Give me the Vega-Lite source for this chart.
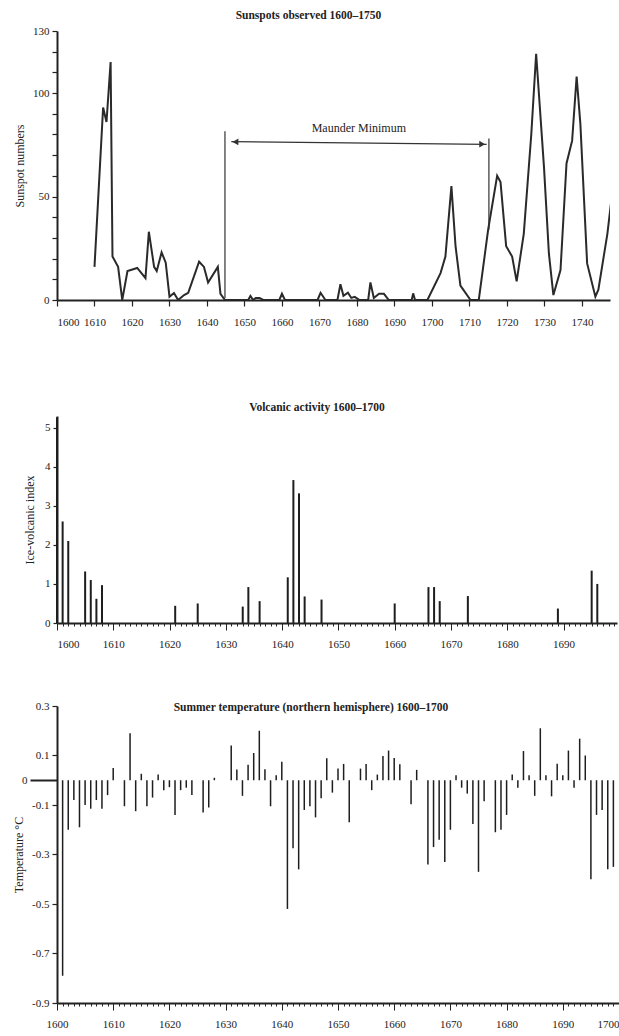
{
  "$schema": "https://vega.github.io/schema/vega-lite/v6.json",
  "padding": {"left": 12, "top": 9, "right": 0, "bottom": 0},
  "background": "white",
  "spacing": 51,
  "config": {
    "font": "Liberation Serif",
    "view": {"stroke": null},
    "axis": {
      "grid": false,
      "domainColor": "#222",
      "domainWidth": 2,
      "tickColor": "#222",
      "tickWidth": 1.2,
      "labelColor": "#222",
      "labelFont": "Liberation Serif",
      "labelFontSize": 11,
      "labelOverlap": false,
      "titleFont": "Liberation Serif",
      "titleFontSize": 12,
      "titleFontWeight": "normal",
      "titleColor": "#222"
    },
    "title": {"font": "Liberation Serif", "fontSize": 11.5, "fontWeight": "bold", "color": "#222", "anchor": "middle"}
  },
  "datasets": {
    "sunspots": [
      {"year": 1610, "value": 16}, {"year": 1612.3, "value": 93}, {"year": 1613.2, "value": 86},
      {"year": 1614.3, "value": 115}, {"year": 1614.8, "value": 21}, {"year": 1616.3, "value": 16},
      {"year": 1617.4, "value": 0}, {"year": 1618.8, "value": 14}, {"year": 1621.4, "value": 15.5},
      {"year": 1623.6, "value": 10.6}, {"year": 1624.5, "value": 33}, {"year": 1625.9, "value": 16},
      {"year": 1626.6, "value": 14}, {"year": 1627.9, "value": 23}, {"year": 1629, "value": 18},
      {"year": 1630, "value": 1.6}, {"year": 1631.2, "value": 3.4}, {"year": 1632.3, "value": 0},
      {"year": 1633.9, "value": 2.4}, {"year": 1635, "value": 3.5}, {"year": 1637.9, "value": 18.5},
      {"year": 1639.2, "value": 16}, {"year": 1640.3, "value": 8.4}, {"year": 1642.9, "value": 16},
      {"year": 1643.6, "value": 3}, {"year": 1644.8, "value": 0}, {"year": 1651, "value": 0},
      {"year": 1651.6, "value": 2}, {"year": 1652.3, "value": 0}, {"year": 1653, "value": 1},
      {"year": 1654, "value": 1}, {"year": 1655, "value": 0}, {"year": 1659.3, "value": 0},
      {"year": 1660, "value": 3}, {"year": 1660.8, "value": 0}, {"year": 1669.5, "value": 0},
      {"year": 1670.3, "value": 3.5}, {"year": 1671.6, "value": 0}, {"year": 1674.8, "value": 0},
      {"year": 1675.6, "value": 7.6}, {"year": 1676.4, "value": 2}, {"year": 1677.6, "value": 3.5},
      {"year": 1678.5, "value": 1}, {"year": 1679.4, "value": 1.5}, {"year": 1680.7, "value": 0},
      {"year": 1683, "value": 0}, {"year": 1683.6, "value": 8.5}, {"year": 1684.5, "value": 1},
      {"year": 1685.9, "value": 3}, {"year": 1687.2, "value": 3}, {"year": 1688.5, "value": 0},
      {"year": 1694.6, "value": 0}, {"year": 1695, "value": 3.2}, {"year": 1695.5, "value": 0},
      {"year": 1698.8, "value": 0}, {"year": 1702.3, "value": 13}, {"year": 1703.6, "value": 21},
      {"year": 1705.2, "value": 55}, {"year": 1706.3, "value": 26}, {"year": 1707.6, "value": 7},
      {"year": 1710.3, "value": 0}, {"year": 1712.5, "value": 0}, {"year": 1715, "value": 34},
      {"year": 1717.4, "value": 60}, {"year": 1718.3, "value": 57}, {"year": 1719.8, "value": 26},
      {"year": 1721.4, "value": 21}, {"year": 1722.6, "value": 9}, {"year": 1724.5, "value": 32},
      {"year": 1726.5, "value": 80}, {"year": 1727.8, "value": 119}, {"year": 1729.9, "value": 64},
      {"year": 1731.2, "value": 22.5}, {"year": 1732.4, "value": 2.4}, {"year": 1734.3, "value": 14.5},
      {"year": 1735.9, "value": 66}, {"year": 1737.4, "value": 77}, {"year": 1738.6, "value": 108},
      {"year": 1739.6, "value": 85}, {"year": 1741.4, "value": 17.7}, {"year": 1743.6, "value": 1.6},
      {"year": 1744.4, "value": 5}, {"year": 1746.8, "value": 32}, {"year": 1748.3, "value": 55}
    ],
    "maunderEdges": [
      {"year": 1644.8, "value": 1, "high": 81.5},
      {"year": 1715.2, "value": 34, "high": 78}
    ],
    "maunderArrow": [
      {"year": 1646.5, "end": 1714.6, "value": 76.5, "endValue": 75.2}
    ],
    "maunderHeads": [
      {"year": 1647.6, "value": 76.4, "shape": "triangle-left"},
      {"year": 1713.4, "value": 75.3, "shape": "triangle-right"}
    ],
    "maunderLabel": [
      {"year": 1680.5, "value": 83, "label": "Maunder Minimum"}
    ],
    "volcanic": [
      {"year": 1600, "index": 5.27}, {"year": 1601, "index": 2.6}, {"year": 1602, "index": 2.1},
      {"year": 1605, "index": 1.32}, {"year": 1606, "index": 1.1}, {"year": 1607, "index": 0.62},
      {"year": 1608, "index": 0.97}, {"year": 1621, "index": 0.44}, {"year": 1625, "index": 0.5},
      {"year": 1633, "index": 0.42}, {"year": 1634, "index": 0.92}, {"year": 1636, "index": 0.56},
      {"year": 1641, "index": 1.17}, {"year": 1642, "index": 3.66}, {"year": 1643, "index": 3.32},
      {"year": 1644, "index": 0.68}, {"year": 1647, "index": 0.6}, {"year": 1660, "index": 0.5},
      {"year": 1666, "index": 0.92}, {"year": 1667, "index": 0.92}, {"year": 1668, "index": 0.56},
      {"year": 1673, "index": 0.69}, {"year": 1689, "index": 0.37}, {"year": 1695, "index": 1.34},
      {"year": 1696, "index": 1.0}
    ],
    "temperature": [
      {"year": 1601, "temp": -0.79}, {"year": 1602, "temp": -0.2}, {"year": 1603, "temp": -0.08},
      {"year": 1604, "temp": -0.19}, {"year": 1605, "temp": -0.1}, {"year": 1606, "temp": -0.115},
      {"year": 1607, "temp": -0.08}, {"year": 1608, "temp": -0.115}, {"year": 1609, "temp": -0.06},
      {"year": 1610, "temp": 0.05}, {"year": 1612, "temp": -0.105}, {"year": 1613, "temp": 0.19},
      {"year": 1614, "temp": -0.125}, {"year": 1615, "temp": 0.026}, {"year": 1616, "temp": -0.105},
      {"year": 1617, "temp": -0.07}, {"year": 1618, "temp": 0.023}, {"year": 1619, "temp": -0.04},
      {"year": 1620, "temp": -0.028}, {"year": 1621, "temp": -0.14}, {"year": 1622, "temp": -0.04},
      {"year": 1623, "temp": -0.03}, {"year": 1624, "temp": -0.06}, {"year": 1626, "temp": -0.13},
      {"year": 1627, "temp": -0.11}, {"year": 1628, "temp": 0.01}, {"year": 1631, "temp": 0.14},
      {"year": 1632, "temp": 0.043}, {"year": 1633, "temp": -0.063}, {"year": 1634, "temp": 0.063},
      {"year": 1635, "temp": 0.11}, {"year": 1636, "temp": 0.2}, {"year": 1637, "temp": 0.044},
      {"year": 1638, "temp": -0.105}, {"year": 1639, "temp": 0.02}, {"year": 1640, "temp": 0.075},
      {"year": 1641, "temp": -0.52}, {"year": 1642, "temp": -0.275}, {"year": 1643, "temp": -0.36},
      {"year": 1644, "temp": -0.12}, {"year": 1645, "temp": -0.105}, {"year": 1646, "temp": -0.15},
      {"year": 1647, "temp": -0.073}, {"year": 1648, "temp": 0.089}, {"year": 1649, "temp": -0.05},
      {"year": 1650, "temp": 0.047}, {"year": 1651, "temp": 0.066}, {"year": 1652, "temp": -0.17},
      {"year": 1654, "temp": 0.047}, {"year": 1655, "temp": 0.066}, {"year": 1656, "temp": -0.04},
      {"year": 1657, "temp": 0.023}, {"year": 1658, "temp": 0.098}, {"year": 1659, "temp": 0.12},
      {"year": 1660, "temp": 0.09}, {"year": 1661, "temp": 0.065}, {"year": 1663, "temp": -0.097},
      {"year": 1664, "temp": 0.042}, {"year": 1666, "temp": -0.34}, {"year": 1667, "temp": -0.27},
      {"year": 1668, "temp": -0.24}, {"year": 1669, "temp": -0.33}, {"year": 1670, "temp": -0.2},
      {"year": 1671, "temp": 0.02}, {"year": 1672, "temp": -0.03}, {"year": 1673, "temp": -0.054},
      {"year": 1674, "temp": -0.177}, {"year": 1675, "temp": -0.37}, {"year": 1676, "temp": -0.085},
      {"year": 1678, "temp": -0.21}, {"year": 1679, "temp": -0.2}, {"year": 1680, "temp": -0.14},
      {"year": 1681, "temp": 0.023}, {"year": 1682, "temp": -0.03}, {"year": 1683, "temp": 0.118},
      {"year": 1684, "temp": 0.02}, {"year": 1685, "temp": -0.063}, {"year": 1686, "temp": 0.21},
      {"year": 1687, "temp": 0.02}, {"year": 1688, "temp": -0.065}, {"year": 1689, "temp": 0.067},
      {"year": 1690, "temp": 0.02}, {"year": 1691, "temp": 0.12}, {"year": 1692, "temp": -0.03},
      {"year": 1693, "temp": 0.168}, {"year": 1694, "temp": 0.1}, {"year": 1695, "temp": -0.4},
      {"year": 1696, "temp": -0.14}, {"year": 1697, "temp": -0.12}, {"year": 1698, "temp": -0.36},
      {"year": 1699, "temp": -0.35}
    ]
  },
  "vconcat": [
    {
      "width": 553,
      "height": 269,
      "title": {"text": "Sunspots observed 1600–1750", "dx": -25, "offset": 4},
      "encoding": {
        "x": {"field": "year", "type": "quantitative",
              "scale": {"domain": [1600, 1747.5], "nice": false, "zero": false},
              "axis": {"title": " ", "titlePadding": 12, "values": [1600, 1610, 1620, 1630, 1640, 1650, 1660, 1670, 1680, 1690, 1700, 1710, 1720, 1730, 1740],
                       "format": "d", "tickSize": 6, "labelPadding": 10, "labelOverlap": false}},
        "y": {"field": "value", "type": "quantitative",
              "scale": {"domain": [0, 130], "nice": false},
              "axis": {"title": "Sunspot numbers", "values": [0, 10, 20, 30, 40, 50, 60, 70, 80, 90, 100, 110, 120, 130],
                       "labelExpr": "indexof([0, 50, 100, 130], datum.value) >= 0 ? datum.label : ''",
                       "labelOverlap": false,
                       "tickSize": 5, "labelPadding": 3, "titlePadding": 6}}
      },
      "layer": [
        {
          "data": {"name": "sunspots"},
          "mark": {"type": "line", "color": "#2a2a2a", "strokeWidth": 2, "clip": true}
        },
        {
          "data": {"name": "maunderEdges"},
          "mark": {"type": "rule", "color": "#333", "strokeWidth": 1.2},
          "encoding": {"y2": {"field": "high"}}
        },
        {
          "data": {"name": "maunderArrow"},
          "mark": {"type": "rule", "color": "#333", "strokeWidth": 1.2},
          "encoding": {"x2": {"field": "end"}, "y2": {"field": "endValue"}}
        },
        {
          "data": {"name": "maunderHeads"},
          "mark": {"type": "point", "filled": true, "color": "#333", "size": 45, "opacity": 1},
          "encoding": {"shape": {"field": "shape", "type": "nominal", "scale": null}}
        },
        {
          "data": {"name": "maunderLabel"},
          "mark": {"type": "text", "fontSize": 12, "color": "#222", "font": "Liberation Serif"},
          "encoding": {"text": {"field": "label"}}
        }
      ]
    },
    {
      "width": 560,
      "height": 207,
      "title": {"text": "Volcanic activity 1600–1700", "dx": -20, "offset": 3},
      "data": {"name": "volcanic"},
      "mark": {"type": "rule", "color": "#1e1e1e", "strokeWidth": 2},
      "encoding": {
        "x": {"field": "year", "type": "quantitative",
              "scale": {"domain": [1600, 1699.5], "nice": false, "zero": false},
              "axis": {"title": null,
                       "values": [1600,1601,1602,1603,1604,1605,1606,1607,1608,1609,1610,1611,1612,1613,1614,1615,1616,1617,1618,1619,1620,1621,1622,1623,1624,1625,1626,1627,1628,1629,1630,1631,1632,1633,1634,1635,1636,1637,1638,1639,1640,1641,1642,1643,1644,1645,1646,1647,1648,1649,1650,1651,1652,1653,1654,1655,1656,1657,1658,1659,1660,1661,1662,1663,1664,1665,1666,1667,1668,1669,1670,1671,1672,1673,1674,1675,1676,1677,1678,1679,1680,1681,1682,1683,1684,1685,1686,1687,1688,1689,1690,1691,1692,1693,1694,1695,1696,1697,1698,1699],
                       "labelExpr": "datum.value % 10 === 0 ? format(datum.value, 'd') : ''",
                       "tickSize": {"condition": {"test": "datum.value % 10 === 0", "value": 7}, "value": 3},
                       "tickWidth": 1, "labelPadding": 8}},
        "y": {"field": "index", "type": "quantitative",
              "scale": {"domain": [0, 5.3], "nice": false},
              "axis": {"title": "Ice-volcanic index", "values": [0, 1, 2, 3, 4, 5], "tickSize": 4, "labelPadding": 3, "titlePadding": 8}},
        "y2": {"datum": 0}
      }
    },
    {
      "width": 562,
      "height": 297,
      "title": {"text": "Summer temperature (northern hemisphere) 1600–1700", "dx": -27, "offset": -13},
      "layer": [
        {
          "mark": {"type": "rule", "color": "#2a2a2a", "strokeWidth": 2},
          "encoding": {"y": {"datum": 0}}
        },
        {
          "data": {"name": "temperature"},
          "mark": {"type": "rule", "color": "#1e1e1e", "strokeWidth": 1.5},
          "encoding": {
            "x": {"field": "year", "type": "quantitative",
                  "scale": {"domain": [1600, 1700], "nice": false, "zero": false},
                  "axis": {"title": null,
                           "values": [1600,1601,1602,1603,1604,1605,1606,1607,1608,1609,1610,1611,1612,1613,1614,1615,1616,1617,1618,1619,1620,1621,1622,1623,1624,1625,1626,1627,1628,1629,1630,1631,1632,1633,1634,1635,1636,1637,1638,1639,1640,1641,1642,1643,1644,1645,1646,1647,1648,1649,1650,1651,1652,1653,1654,1655,1656,1657,1658,1659,1660,1661,1662,1663,1664,1665,1666,1667,1668,1669,1670,1671,1672,1673,1674,1675,1676,1677,1678,1679,1680,1681,1682,1683,1684,1685,1686,1687,1688,1689,1690,1691,1692,1693,1694,1695,1696,1697,1698,1699,1700],
                           "labelExpr": "datum.value % 10 === 0 ? format(datum.value, 'd') : ''",
                           "labelAlign": {"condition": {"test": "datum.value === 1700", "value": "right"}, "value": "center"},
                           "tickSize": {"condition": {"test": "datum.value % 10 === 0", "value": 7}, "value": 3},
                           "tickWidth": 1, "labelPadding": 8}},
            "y": {"field": "temp", "type": "quantitative",
                  "scale": {"domain": [-0.9, 0.3], "nice": false},
                  "axis": {"title": "Temperature °C", "values": [0.3, 0.1, 0, -0.1, -0.3, -0.5, -0.7, -0.9],
                           "labelExpr": "datum.value === 0 ? '0' : (datum.value < 0 ? '-' + format(-datum.value, '.1f') : format(datum.value, '.1f'))",
                           "tickSize": {"condition": {"test": "datum.value === 0", "value": 27}, "value": 5},
                           "tickWidth": {"condition": {"test": "datum.value === 0", "value": 2}, "value": 1.2},
                           "labelPadding": 3, "titlePadding": -4}},
            "y2": {"datum": 0}
          }
        }
      ]
    }
  ]
}
